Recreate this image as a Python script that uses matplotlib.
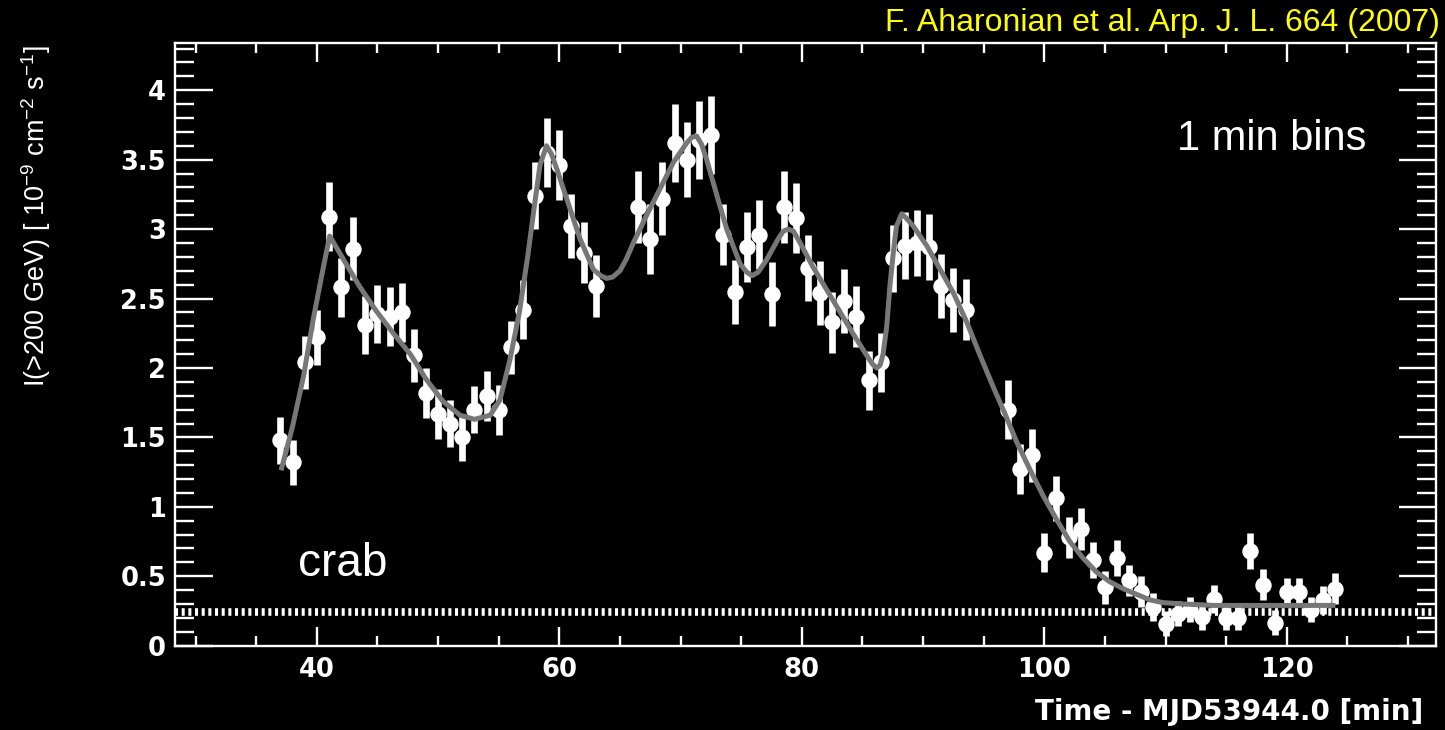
import numpy as np
import matplotlib
matplotlib.use('Agg')
from matplotlib import pyplot as plt
from matplotlib.ticker import MultipleLocator, FormatStrFormatter

# --- 1 min binned light curve (three runs) ---
t_run1 = [37, 38, 39, 40, 41, 42, 43, 44, 45, 46, 47, 48, 49, 50,
          51, 52, 53, 54, 55, 56, 57, 58, 59, 60, 61, 62, 63]
f_run1 = [1.48, 1.32, 2.04, 2.22, 3.09, 2.58, 2.86, 2.31, 2.39, 2.37, 2.40, 2.09, 1.82, 1.67,
          1.60, 1.50, 1.70, 1.80, 1.70, 2.15, 2.42, 3.24, 3.55, 3.46, 3.02, 2.83, 2.59]
e_run1 = [0.17, 0.16, 0.19, 0.20, 0.25, 0.21, 0.23, 0.21, 0.21, 0.21, 0.21, 0.19, 0.18, 0.18,
          0.17, 0.17, 0.17, 0.18, 0.18, 0.19, 0.21, 0.24, 0.25, 0.25, 0.23, 0.22, 0.22]

t_run2 = [66.5, 67.5, 68.5, 69.5, 70.5, 71.5, 72.5, 73.5, 74.5, 75.5, 76.5, 77.5, 78.5, 79.5,
          80.5, 81.5, 82.5, 83.5, 84.5, 85.5, 86.5, 87.5, 88.5, 89.5, 90.5, 91.5, 92.5, 93.5]
f_run2 = [3.16, 2.93, 3.22, 3.62, 3.50, 3.64, 3.68, 2.96, 2.55, 2.87, 2.96, 2.53, 3.16, 3.08,
          2.72, 2.54, 2.33, 2.48, 2.37, 1.91, 2.04, 2.79, 2.88, 2.90, 2.87, 2.59, 2.49, 2.42]
e_run2 = [0.26, 0.25, 0.26, 0.28, 0.27, 0.28, 0.28, 0.22, 0.23, 0.25, 0.25, 0.23, 0.26, 0.25,
          0.24, 0.23, 0.22, 0.23, 0.22, 0.21, 0.21, 0.24, 0.24, 0.24, 0.24, 0.23, 0.23, 0.22]

t_run3 = [97, 98, 99, 100, 101, 102, 103, 104, 105, 106, 107, 108, 109, 110,
          111, 112, 113, 114, 115, 116, 117, 118, 119, 120, 121, 122, 123, 124]
f_run3 = [1.70, 1.27, 1.37, 0.67, 1.06, 0.78, 0.84, 0.62, 0.42, 0.63, 0.47, 0.39, 0.28, 0.157,
          0.23, 0.26, 0.205, 0.337, 0.20, 0.20, 0.68, 0.44, 0.166, 0.39, 0.39, 0.26, 0.33, 0.41]
e_run3 = [0.21, 0.18, 0.19, 0.14, 0.16, 0.15, 0.15, 0.13, 0.12, 0.13, 0.11, 0.11, 0.10, 0.09,
          0.09, 0.09, 0.09, 0.10, 0.09, 0.09, 0.13, 0.11, 0.09, 0.10, 0.10, 0.09, 0.10, 0.11]

# fitted burst model
t_fit = [37.1, 38.0, 38.9, 39.7, 40.5, 41.06, 42.2, 43.5, 44.9, 46.3, 47.7, 49.0, 50.4, 51.8,
         53.0, 54.3, 55.1, 55.9, 56.7, 57.4, 57.9, 58.4, 58.94, 59.35, 59.8, 60.6, 61.7, 62.8,
         63.4, 63.9, 64.4, 65.0, 65.5, 66.1, 67.2, 68.3, 69.4, 70.5, 70.9, 71.32, 71.73, 72.15,
         73.0, 73.8, 74.9, 75.45, 75.9, 76.4, 77.1, 78.05, 78.47, 78.88, 79.3, 79.8, 80.9, 82.0,
         83.1, 84.2, 85.35, 85.8, 86.17, 86.45, 86.7, 87.0, 87.26, 87.54, 87.8, 88.23, 88.6,
         89.2, 90.3, 91.4, 92.5, 93.6, 94.7, 95.8, 96.8, 97.7, 98.8, 99.9, 101.0, 102.1, 103.2,
         104.3, 105.4, 106.5, 107.6, 108.7, 109.8, 111.5, 114.0, 118.0, 123.8]
f_fit = [1.28, 1.58, 1.94, 2.35, 2.71, 2.95, 2.78, 2.59, 2.41, 2.25, 2.10, 1.92, 1.76, 1.66,
         1.63, 1.66, 1.77, 2.05, 2.40, 2.81, 3.14, 3.46, 3.60, 3.54, 3.43, 3.22, 2.93, 2.71,
         2.665, 2.645, 2.655, 2.70, 2.78, 2.90, 3.10, 3.29, 3.48, 3.62, 3.66, 3.67, 3.61, 3.50,
         3.24, 3.00, 2.75, 2.69, 2.665, 2.69, 2.78, 2.93, 2.985, 3.00, 2.985, 2.91, 2.73, 2.57,
         2.41, 2.25, 2.09, 2.03, 2.00, 2.02, 2.10, 2.30, 2.59, 2.83, 3.02, 3.11, 3.08,
         3.02, 2.88, 2.71, 2.54, 2.33, 2.09, 1.86, 1.66, 1.47, 1.27, 1.08, 0.91, 0.75, 0.63,
         0.53, 0.46, 0.41, 0.37, 0.33, 0.31, 0.30, 0.29, 0.29, 0.29]

crab_flux = 0.243

t_all = t_run1 + t_run2 + t_run3
f_all = f_run1 + f_run2 + f_run3
e_all = e_run1 + e_run2 + e_run3

plt.rcParams['lines.scale_dashes'] = False
plt.rcParams['mathtext.fontset'] = 'custom'
plt.rcParams['mathtext.rm'] = 'Liberation Sans'
plt.rcParams['mathtext.it'] = 'Liberation Sans:italic'
plt.rcParams['mathtext.bf'] = 'Liberation Sans:bold'

fig = plt.figure(figsize=(14.45, 7.3), dpi=100, facecolor='black')
ax = fig.add_axes([175 / 1445, 1 - 645.7 / 730, (1436 - 175) / 1445, (645.7 - 43) / 730])
ax.set_facecolor('black')

# data points with error bars
ax.errorbar(t_all, f_all, yerr=e_all, fmt='o', color='white', ms=10.8,
            elinewidth=4.8, capsize=0, zorder=3)

# fit curve
ax.plot(t_fit, f_fit, color='#777777', lw=3.6, zorder=4, solid_joinstyle='round')

# crab level
ax.axhline(crab_flux, color='white', lw=5.5, linestyle=(0, (2.2, 2.6)),
           dash_capstyle='butt', zorder=2)

ax.set_xlim(28.3, 132.3)
ax.set_ylim(0, 4.34)

ax.xaxis.set_major_locator(MultipleLocator(20))
ax.xaxis.set_minor_locator(MultipleLocator(5))
ax.yaxis.set_major_locator(MultipleLocator(0.5))
ax.yaxis.set_minor_locator(MultipleLocator(0.1))
ax.yaxis.set_major_formatter(FormatStrFormatter('%g'))

for s in ax.spines.values():
    s.set_color('white')
    s.set_linewidth(1.7)

ax.tick_params(which='both', direction='in', top=True, right=True,
               colors='white', width=1.7)
ax.tick_params(axis='x', which='major', length=14, pad=8)
ax.tick_params(axis='x', which='minor', length=7)
ax.tick_params(axis='y', which='major', length=27, pad=6.5)
ax.tick_params(axis='y', which='minor', length=13.5)
for lab in ax.get_xticklabels() + ax.get_yticklabels():
    lab.set_fontfamily('DejaVu Sans')
    lab.set_fontweight('bold')
    lab.set_fontsize(18.5)

# texts
fig.text(1423 / 1445, 1 - 720 / 730, 'Time - MJD53944.0 [min]', color='white',
         fontsize=20, fontweight='bold', family='DejaVu Sans', ha='right', va='baseline')
fig.text(36 / 1445, 1 - 387 / 730,
         r'I(>200 GeV) [ 10$^{\mathrm{-9}}$ cm$^{\mathrm{-2}}$ s$^{\mathrm{-1}}$]',
         color='white', fontsize=19.5, family='Liberation Sans', rotation=90,
         ha='center', va='bottom')
fig.text(1440 / 1445, 1 - 31 / 730, 'F. Aharonian et al. Arp. J. L. 664 (2007)',
         color='#ffff00', fontsize=23, family='Liberation Sans', ha='right', va='baseline')
fig.text(1177 / 1445, 1 - 150 / 730, '1 min bins', color='white', fontsize=30,
         family='Liberation Sans', ha='left', va='baseline')
fig.text(298 / 1445, 1 - 576 / 730, 'crab', color='white', fontsize=33,
         family='Liberation Sans', ha='left', va='baseline')

fig.savefig('out.png', dpi=100, facecolor='black')
